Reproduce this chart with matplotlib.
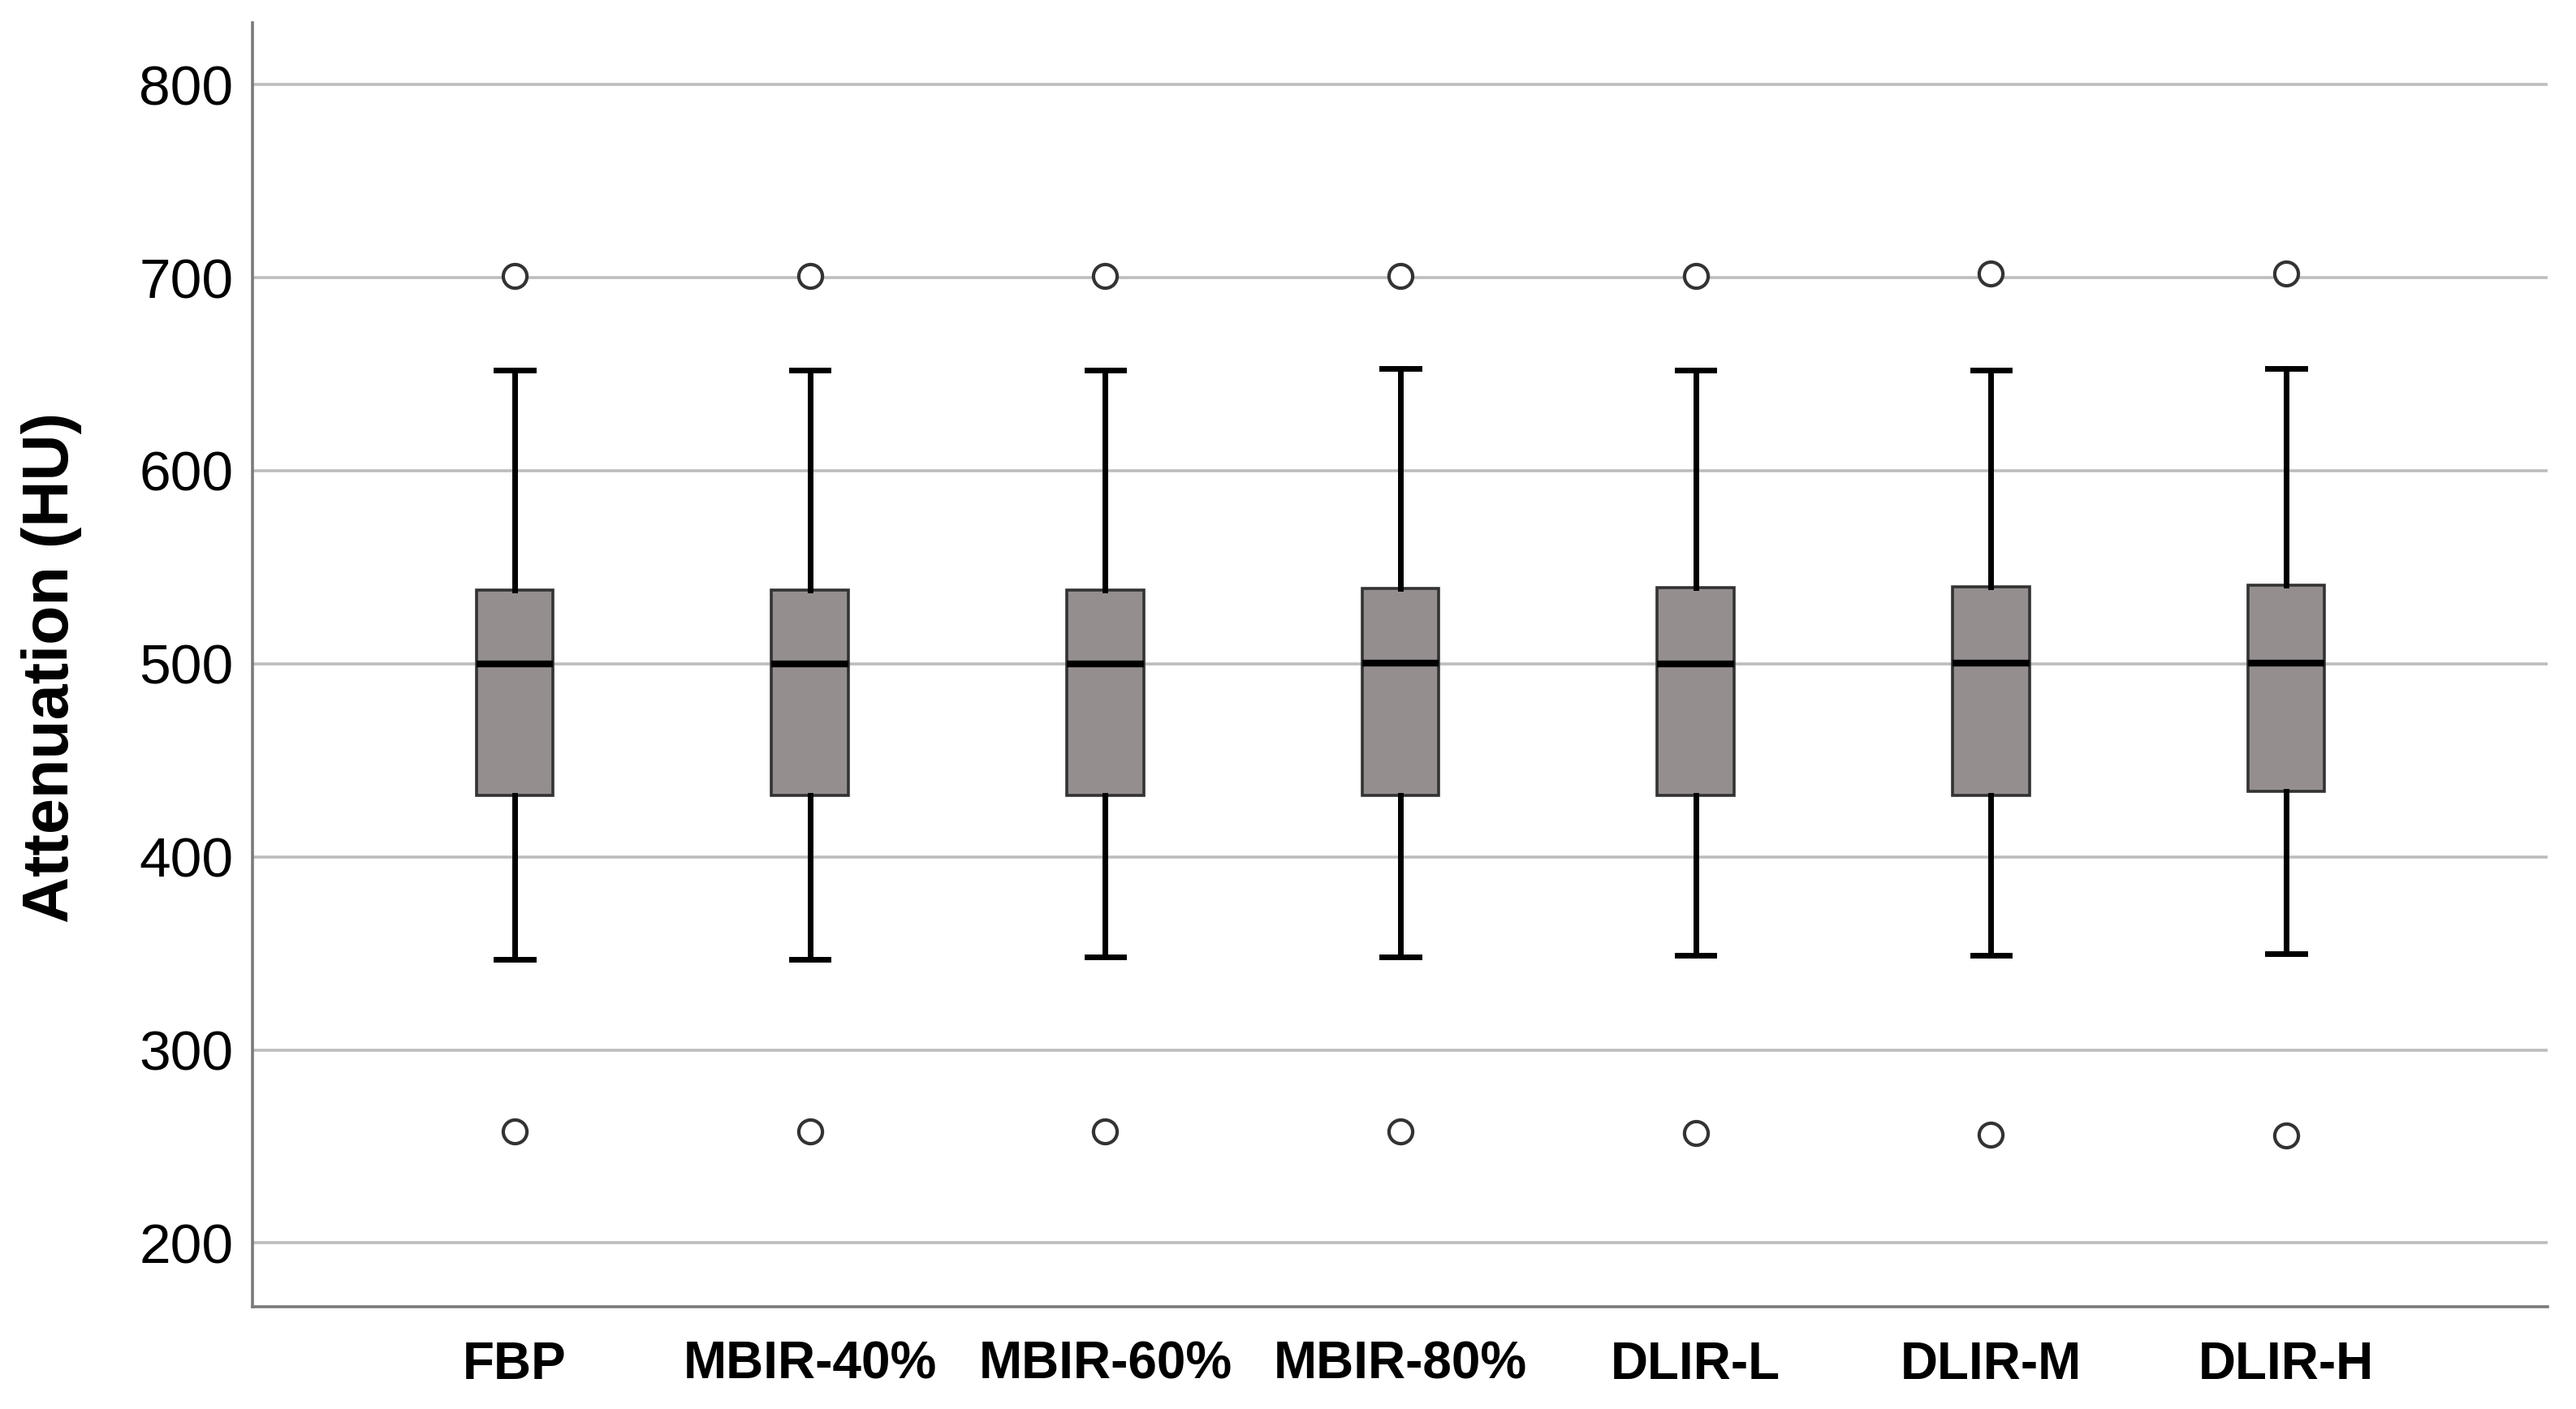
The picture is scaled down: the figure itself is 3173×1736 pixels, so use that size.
import matplotlib
matplotlib.use('Agg')
import matplotlib.pyplot as plt

# values (HU)
methods = ['FBP', 'MBIR-40%', 'MBIR-60%', 'MBIR-80%', 'DLIR-L', 'DLIR-M', 'DLIR-H']
whisker_lo = [347, 347, 348, 348, 349, 349, 350]
q1 = [432, 432, 432, 432, 432, 432, 434]
median = [500, 500, 500, 500.5, 500, 500.5, 500.5]
q3 = [538, 538, 538, 539, 539.5, 540, 540.5]
whisker_hi = [652, 652, 652, 653, 652, 652, 653]
outlier_hi = [701, 701, 701, 701, 701, 702, 702]
outlier_lo = [258, 258, 258, 258, 257, 256, 255.5]
yticks = [200, 300, 400, 500, 600, 700, 800]

plt.rcParams['font.family'] = ['Liberation Sans', 'DejaVu Sans']

fig = plt.figure(figsize=(31.73, 17.36), dpi=100)
# axes box in pixels: left 311, right 3138, top 28, bottom 1610
ax = fig.add_axes([311/3173, 1 - 1610/1736, (3138-311)/3173, (1610-28)/1736])

stats = []
for i in range(len(methods)):
    stats.append({'label': methods[i], 'whislo': whisker_lo[i], 'q1': q1[i],
                  'med': median[i], 'q3': q3[i], 'whishi': whisker_hi[i],
                  'fliers': [outlier_hi[i], outlier_lo[i]]})

ax.bxp(stats, positions=range(len(methods)), widths=0.26, patch_artist=True,
       boxprops=dict(facecolor='#948f8e', edgecolor='#333333', linewidth=2.6),
       medianprops=dict(color='black', linewidth=6),
       whiskerprops=dict(color='black', linewidth=5),
       capprops=dict(color='black', linewidth=5),
       capwidths=0.125,
       flierprops=dict(marker='o', markersize=21, markerfacecolor='white',
                       markeredgecolor='#333333', markeredgewidth=3),
       zorder=3)

ax.set_xlim(-0.888, 6.885)
ax.set_ylim(167, 832)
ax.set_yticks(yticks)
ax.set_xticks(range(len(methods)))
ax.set_xticklabels(methods, fontsize=46, fontweight='bold')
ax.tick_params(axis='y', length=0, pad=17, labelsize=50)
ax.tick_params(axis='x', length=0, pad=30)

ax.grid(axis='y', color='#bdbdbd', linewidth=2.6, zorder=0)
ax.set_axisbelow(True)
for s in ['top', 'right']:
    ax.spines[s].set_visible(False)
for s in ['left', 'bottom']:
    ax.spines[s].set_color('#7a7a7a')
    ax.spines[s].set_linewidth(2.6)

fig.text(64/3173, 1 - 822/1736, 'Attenuation (HU)', rotation=90, ha='center',
         va='center', fontsize=57, fontweight='bold')

fig.savefig('out.png', dpi=100, facecolor='white')
